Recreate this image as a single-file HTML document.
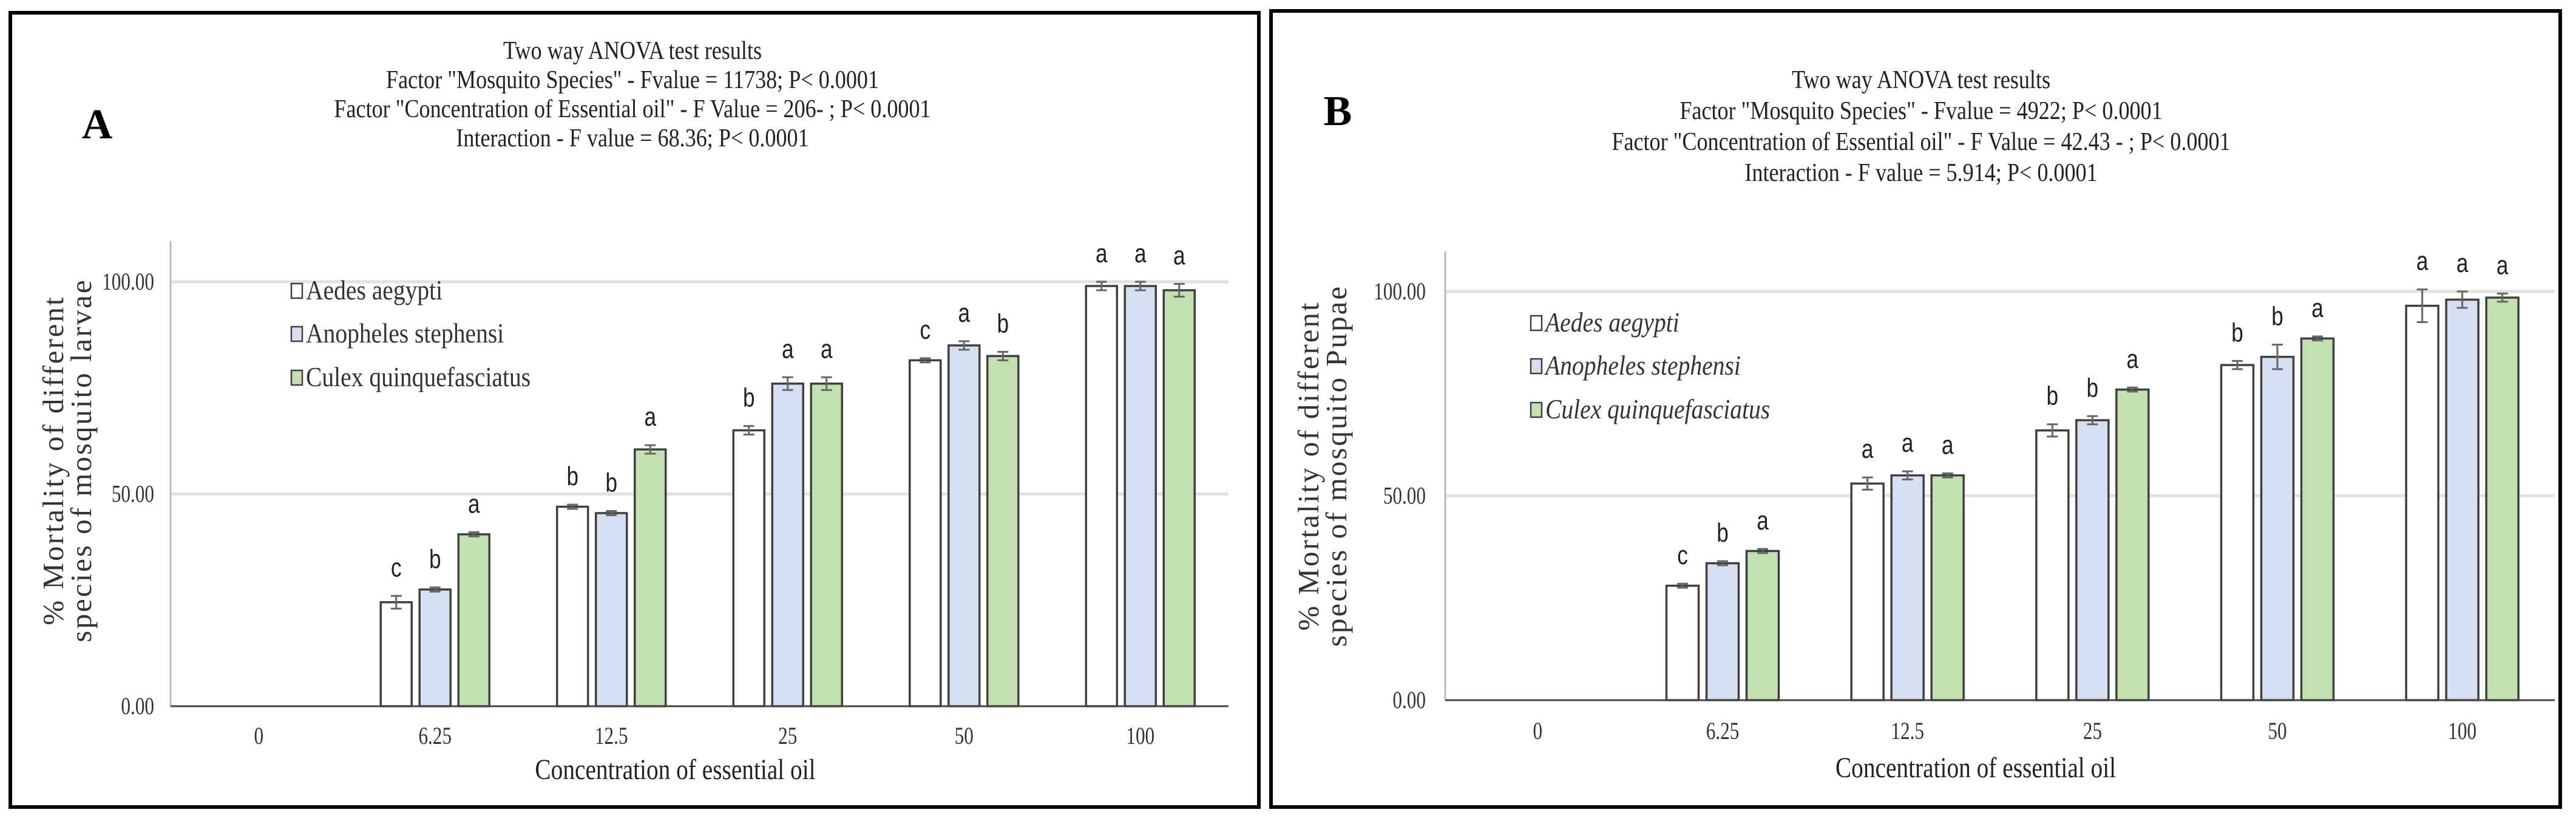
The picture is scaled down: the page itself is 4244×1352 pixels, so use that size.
<!DOCTYPE html>
<html><head><meta charset="utf-8">
<style>
html,body{margin:0;padding:0;background:#fff;}
svg{display:block;}
.nar{font-family:"Liberation Sans",sans-serif;}
.ser{font-family:"Liberation Serif",serif;}
</style></head>
<body>
<svg id="fig" width="4244" height="1352" viewBox="0 0 4244 1352" xmlns="http://www.w3.org/2000/svg">
<rect x="0" y="0" width="4244" height="1352" fill="#fff"/>
</svg>
<script>
const categories = ["0","6.25","12.5","25","50","100"];
const species = ["Aedes aegypti","Anopheles stephensi","Culex quinquefasciatus"];
const yTicks = [0,50,100];
const yTickLabels = ["0.00","50.00","100.00"];
// Panel A (larvae)
const aAedes = [0,24.5,47,65,81.5,99];
const aAnoph = [0,27.5,45.5,76,85,99];
const aCulex = [0,40.5,60.5,76,82.5,98];
const aAedesErr = [0,1.5,0.5,1,0.5,1];
const aAnophErr = [0,0.5,0.5,1.5,1,1];
const aCulexErr = [0,0.5,1,1.5,1,1.5];
const aLetters = [["","",""],["c","b","a"],["b","b","a"],["b","a","a"],["c","a","b"],["a","a","a"]];
const aTitle = ["Two way ANOVA test results","Factor \"Mosquito Species\" - Fvalue = 11738; P< 0.0001","Factor \"Concentration of Essential oil\" - F Value = 206- ; P< 0.0001","Interaction - F value = 68.36; P< 0.0001"];
// Panel B (pupae)
const bAedes = [0,28,53,66,82,96.5];
const bAnoph = [0,33.5,55,68.5,84,98];
const bCulex = [0,36.5,55,76,88.5,98.5];
const bAedesErr = [0,0.5,1.5,1.5,1,4];
const bAnophErr = [0,0.5,1,1,3,2];
const bCulexErr = [0,0.5,0.5,0.5,0.5,1];
const bLetters = [["","",""],["c","b","a"],["a","a","a"],["b","b","a"],["b","b","a"],["a","a","a"]];
const bTitle = ["Two way ANOVA test results","Factor \"Mosquito Species\" - Fvalue = 4922; P< 0.0001","Factor \"Concentration of Essential oil\" - F Value = 42.43 - ; P< 0.0001","Interaction - F value = 5.914; P< 0.0001"];

const NS = "http://www.w3.org/2000/svg";
const svg = document.getElementById("fig");
function el(tag, attrs, parent, text){
  const e = document.createElementNS(NS, tag);
  for (const k in attrs) e.setAttribute(k, attrs[k]);
  if (text !== undefined) e.textContent = text;
  (parent || svg).appendChild(e);
  return e;
}
function ntext(x, y, size, anchor, str, parent, extra, sx){
  const attrs = {x:0, y:0, "font-size":size, class:"ser", "text-anchor":anchor, fill:"#222",
    transform:`translate(${x} ${y}) scale(${sx||0.86} 1)`};
  if (extra) for (const k in extra) attrs[k] = extra[k];
  return el("text", attrs, parent, str);
}
const fills = ["#ffffff","#d6dff1","#c3e0b0"];

function panel(cfg){
  const g = el("g", {});
  
  
  const border = el("rect", {x:cfg.bx, y:cfg.by, width:cfg.bw, height:cfg.bh, fill:"none", stroke:"#000", "stroke-width":6}, g);
  
  
  const lab = el("text", {x:cfg.labX, y:cfg.labY, "font-size":70, "font-weight":"bold", class:"ser", "text-anchor":"middle"}, g, cfg.id);
  
  
  cfg.title.forEach((t,i)=>{
    const tt = ntext(cfg.tX, cfg.tY + i*cfg.tStep, 42, "middle", t, g);
    
    
  });
  const x0 = cfg.ax, x1 = cfg.axR, yz = cfg.y0, y100 = cfg.y100;
  const yS = v => yz - (yz - y100) * v / 100;
  const cw = (x1 - x0) / categories.length;
  const xC = i => x0 + cw * (i + 0.5);
  yTicks.forEach((t,i)=>{
    if (t > 0) {
      const gl = el("line", {x1:x0, x2:x1, y1:yS(t), y2:yS(t), stroke:"#e2e2e2", "stroke-width":5}, g);
      
      
    }
    const tl = ntext(cfg.tickR, yS(t)+13, 40, "end", yTickLabels[i], g, {fill:"#333"}, 0.78);
    
    
  });
  const ya = el("line", {x1:x0, x2:x0, y1:cfg.yTop, y2:yz, stroke:"#bbb", "stroke-width":3}, g);
  
  
  const series = [cfg.s0, cfg.s1, cfg.s2];
  const errs = [cfg.e0, cfg.e1, cfg.e2];
  categories.forEach((c,i)=>{
    const cl = ntext(xC(i), cfg.catY, 40, "middle", c, g, {fill:"#333"}, 0.78);
    
    
    for (let s=0;s<3;s++){
      const v = series[s][i];
      if (v <= 0) continue;
      const cx = xC(i) + (s-1)*cfg.step;
      const b = el("rect", {x:cx-cfg.bwid/2, y:yS(v), width:cfg.bwid, height:yz-yS(v), fill:fills[s], stroke:"#404040", "stroke-width":3.5}, g);
      
      
      const e = errs[s][i];
      const eb = el("path", {d:`M${cx} ${yS(v+e)}V${yS(v-e)}M${cx-9} ${yS(v+e)}H${cx+9}M${cx-9} ${yS(v-e)}H${cx+9}`, stroke:"#666", "stroke-width":3, fill:"none"}, g);
      
      
      const lt = el("text", {x:0, y:0, "font-size":44, class:"nar", "text-anchor":"middle", fill:"#222", transform:`translate(${cx} ${yS(v+e)-32}) scale(0.8 1)`}, g, cfg.letters[i][s]);
      
      
    }
  });
  const xa = el("line", {x1:x0, x2:x1, y1:yz, y2:yz, stroke:"#444", "stroke-width":3}, g);
  
  
  const xt = ntext((x0+x1)/2 - 40, cfg.xtY, 48, "middle", "Concentration of essential oil", g, null, 0.82);
  
  
  cfg.yTitle.forEach((t,i)=>{
    const x = cfg.ytX[i];
    const yt = el("text", {x:x, y:cfg.ytY, "font-size":49, "letter-spacing":3, class:"ser", "text-anchor":"middle", fill:"#333", transform:`rotate(-90 ${x} ${cfg.ytY})`}, g, t);
    
    
  });
  species.forEach((sp,i)=>{
    const ly = cfg.legY[i];
    const sq = el("rect", {x:cfg.legX, y:ly-12, width:18, height:24, fill:fills[i], stroke:"#404040", "stroke-width":2.5}, g);
    
    
    const lt = ntext(cfg.legX+24, ly+14, 46, "start", sp, g, {fill:"#333", "font-style":cfg.italic?"italic":"normal"}, 0.86);
    
    
  });
}

panel({id:"A", bx:17, by:21, bw:2057, bh:1308, labX:160, labY:228, title:aTitle, tX:1042, tY:97, tStep:48,
  ax:281, axR:2024, y0:1163, y100:464, yTop:397, tickR:254, catY:1225, xtY:1283,
  s0:aAedes, s1:aAnoph, s2:aCulex, e0:aAedesErr, e1:aAnophErr, e2:aCulexErr, letters:aLetters,
  step:64, bwid:51, yTitle:["% Mortality of different","species of mosquito larvae"], ytX:[104,150], ytY:758,
  legX:480, legY:[479,550,622], italic:false});
panel({id:"B", bx:2094, by:18, bw:2124, bh:1311, labX:2204, labY:206, title:bTitle, tX:3165, tY:145, tStep:51,
  ax:2381, axR:4209, y0:1153, y100:480, yTop:414, tickR:2349, catY:1217, xtY:1280,
  s0:bAedes, s1:bAnoph, s2:bCulex, e0:bAedesErr, e1:bAnophErr, e2:bCulexErr, letters:bLetters,
  step:66, bwid:53, yTitle:["% Mortality of different","species of mosquito Pupae"], ytX:[2172,2218], ytY:767,
  legX:2522, legY:[532,603,675], italic:true});
</script>
</body></html>
